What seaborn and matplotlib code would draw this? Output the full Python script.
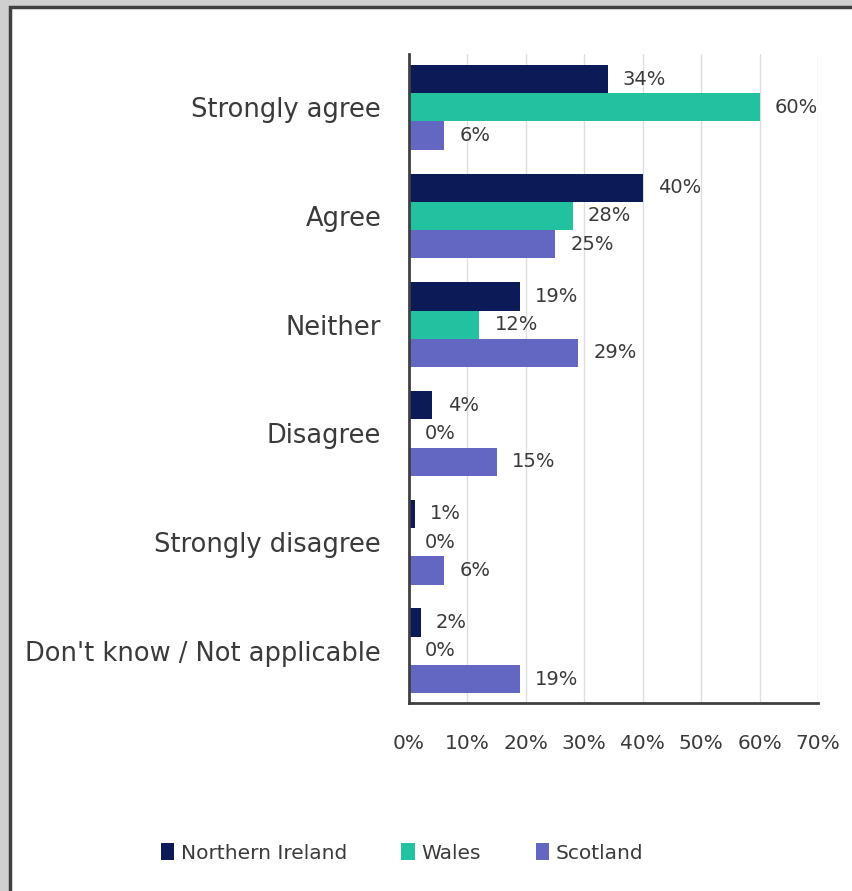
import matplotlib
matplotlib.use("Agg")
import matplotlib.pyplot as plt
from matplotlib.patches import Rectangle
import seaborn as sns
import pandas as pd

categories = ["Strongly agree", "Agree", "Neither", "Disagree",
              "Strongly disagree", "Don't know / Not applicable"]
regions = ["Northern Ireland", "Wales", "Scotland"]
northern_ireland = [34, 40, 19, 4, 1, 2]
wales = [60, 28, 12, 0, 0, 0]
scotland = [6, 25, 29, 15, 6, 19]
x_ticks = [0, 10, 20, 30, 40, 50, 60, 70]
colors = ["#0c1b58", "#22c2a0", "#6367c2"]

rows = []
for reg, vals in zip(regions, [northern_ireland, wales, scotland]):
    for cat, v in zip(categories, vals):
        rows.append({"category": cat, "region": reg, "value": v})
df = pd.DataFrame(rows)

sns.set_style("white")
plt.rcParams["font.family"] = ["DejaVu Sans"]
text_color = "#3a3a3a"

fig = plt.figure(figsize=(8.52, 8.91), dpi=100)
fig.patch.set_facecolor("#cfcfcf")
fig.patches.append(Rectangle((9.5 / 852, -0.02), 1.1, (891 - 6.5) / 891 + 0.02,
                             transform=fig.transFigure, facecolor="white",
                             edgecolor="#404040", linewidth=2.5, zorder=-10))

ax = fig.add_axes([409 / 852, 1 - 703 / 891, (818 - 409) / 852, (703 - 54) / 891])
ax.set_facecolor("white")
sns.barplot(data=df, y="category", x="value", hue="region", order=categories,
            hue_order=regions, palette=colors, orient="h", width=0.78,
            saturation=1, linewidth=0, ax=ax)

for cont in ax.containers:
    ax.bar_label(cont, fmt="%d%%", padding=11, fontsize=14, color=text_color)

ax.set_xlim(0, 70)
ax.set_ylim(len(categories) - 0.52, -0.49)
ax.set_xticks(x_ticks)
ax.set_xticklabels([f"{t}%" for t in x_ticks])
ax.grid(axis="x", color="#dedede", linewidth=1)
ax.set_axisbelow(True)
ax.set_xlabel("")
ax.set_ylabel("")
for s in ["top", "right"]:
    ax.spines[s].set_visible(False)
for s in ["left", "bottom"]:
    ax.spines[s].set_color("#404040")
    ax.spines[s].set_linewidth(2)
ax.tick_params(axis="x", length=0, pad=22, labelsize=14.5, labelcolor=text_color)
ax.tick_params(axis="y", length=0, pad=20, labelsize=18.5, labelcolor=text_color)

handles, labels = ax.get_legend_handles_labels()
if ax.get_legend() is not None:
    ax.get_legend().remove()
fig.legend(handles, labels, loc="center", bbox_to_anchor=(402 / 852, 1 - 853 / 891),
           ncol=3, frameon=False, fontsize=14.5, handlelength=0.65, handleheight=0.85,
           handletextpad=0.35, columnspacing=2.7, labelcolor=text_color)

fig.savefig("out.png", dpi=100, facecolor=fig.get_facecolor())
